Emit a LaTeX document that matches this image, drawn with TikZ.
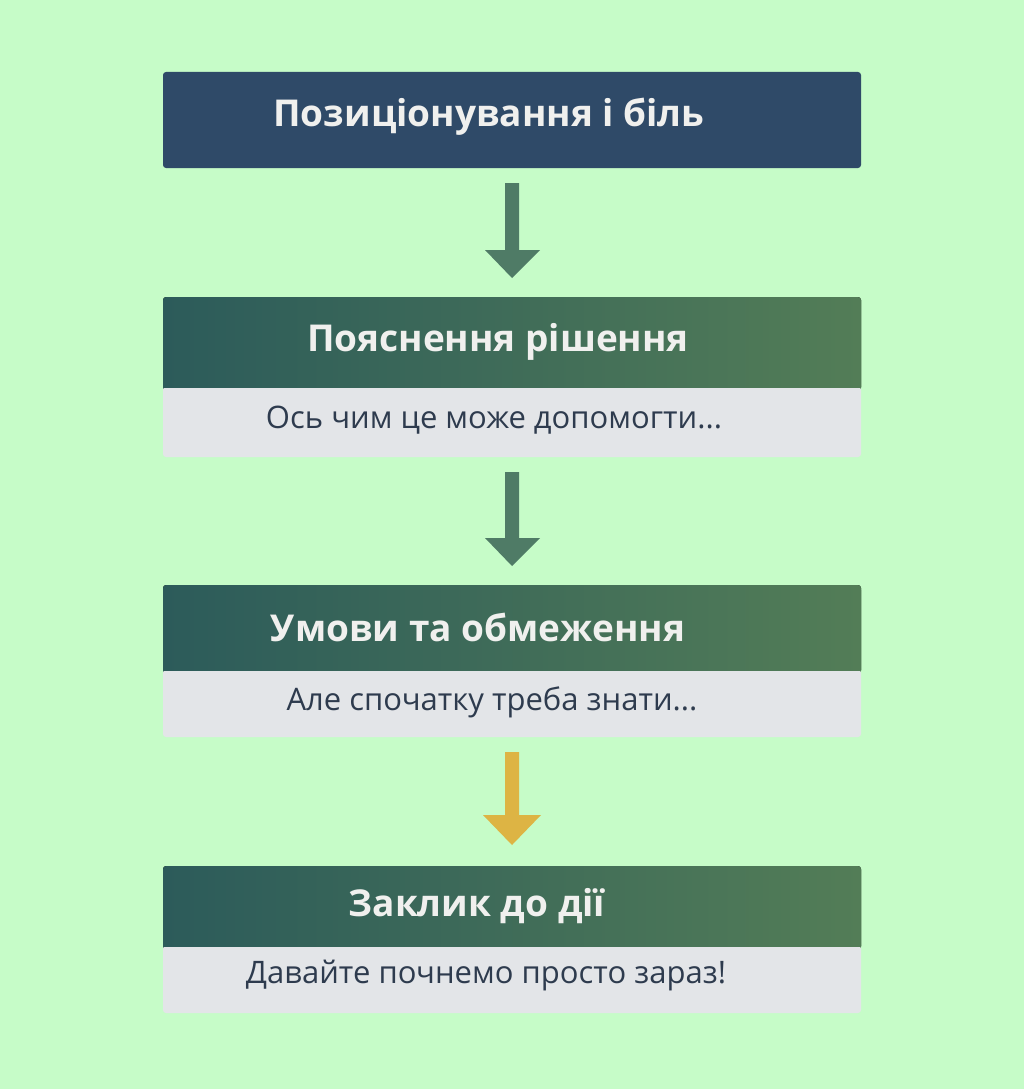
\documentclass[tikz,border=0pt]{standalone}
\usepackage{fontspec}
\setmainfont{Open Sans}
\begin{document}
\begin{tikzpicture}[x=1pt,y=-1pt,
  hdr/.style={left color=hl,right color=hr,draw=none},
  body/.style={fill=bodyc,draw=none},
  htxt/.style={text=htc,font=\fontsize{37}{40}\selectfont\bfseries},
  btxt/.style={text=btc,font=\fontsize{31}{34}\selectfont},
  arr/.style={fill=arc,draw=none}]
\definecolor{bg}{HTML}{C6FCC8}
\definecolor{hl}{HTML}{2C5B5A}
\definecolor{hr}{HTML}{537D57}
\definecolor{b1}{HTML}{2F4A68}
\definecolor{bodyc}{HTML}{E3E5E8}
\definecolor{htc}{HTML}{F0F0EE}
\definecolor{btc}{HTML}{2E3B4E}
\definecolor{arc}{HTML}{4F7B66}
\definecolor{yel}{HTML}{DDB444}
\fill[bg] (0,0) rectangle (1024,1089);
\useasboundingbox (0,0) rectangle (1024,1089);
% box 1
\fill[b1,rounded corners=3] (163,72) rectangle (861,168);
\node[htxt] (t1) at (489,117) {Позиціонування і біль};
% arrow 1
\fill[arr] (505,183) -- (519,183) -- (519,250) -- (540,250) -- (512,278) -- (485,250) -- (505,250) -- cycle;
% box 2
\fill[hdr,rounded corners=3] (163,297) rectangle (861,390);
\fill[body,rounded corners=3] (163,387) rectangle (861,457);
\fill[hdr] (163,300) rectangle (861,387);
\node[htxt] (t2) at (498,342) {Пояснення рішення};
\node[btxt] (b2) at (494,420) {Ось чим це може допомогти...};
% arrow 2
\fill[arr] (505,472) -- (519,472) -- (519,538) -- (540,538) -- (512,566) -- (485,538) -- (505,538) -- cycle;
% box 3
\fill[hdr,rounded corners=3] (163,585) rectangle (861,673);
\fill[body,rounded corners=3] (163,670) rectangle (861,737);
\fill[hdr] (163,590) rectangle (861,670);
\node[htxt] (t3) at (478,627) {Умови та обмеження};
\node[btxt] (b3) at (492,702) {Але спочатку треба знати...};
% arrow 3
\fill[yel] (505,752) -- (519,752) -- (519,815) -- (541,815) -- (512,845) -- (483,815) -- (505,815) -- cycle;
% box 4
\fill[hdr,rounded corners=3] (163,866) rectangle (861,949);
\fill[body,rounded corners=3] (163,946) rectangle (861,1013);
\fill[hdr] (163,870) rectangle (861,946);
\node[htxt] (t4) at (477,906) {Заклик до дії};
\node[btxt] (b4) at (486,975) {Давайте почнемо просто зараз!};
\end{tikzpicture}
\end{document}
